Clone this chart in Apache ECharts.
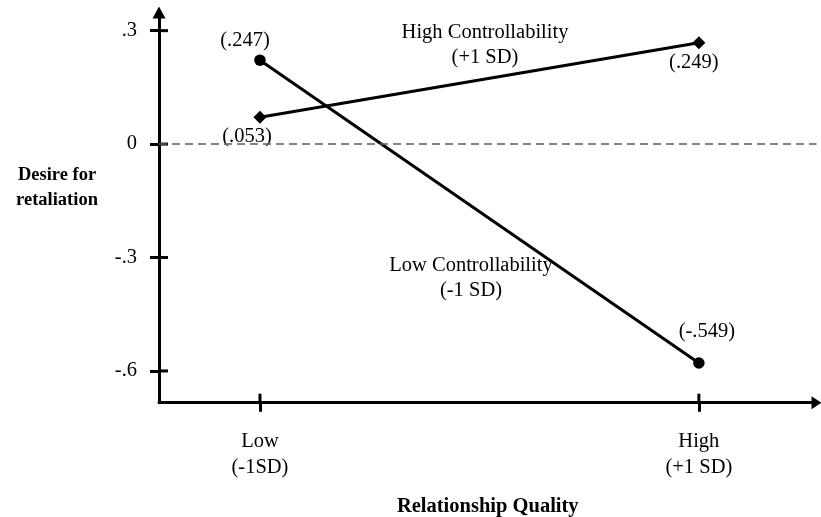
<!DOCTYPE html>
<html><head><meta charset="utf-8">
<script src="https://cdn.jsdelivr.net/npm/echarts@6/dist/echarts.min.js"></script>
<style>html,body{margin:0;padding:0;background:#fff}#c{width:821px;height:517px}</style>
</head><body><div id="c"></div>
<script>
// ---- data ----
const xPositions = [0, 1];
const xTickLabels = ['Low\n(-1SD)', 'High\n(+1 SD)'];
const yTicks = [-0.6, -0.3, 0, 0.3];
const yTickLabels = ['-.6', '-.3', '0', '.3'];
const lowControllability = [0.222, -0.579];
const highControllability = [0.071, 0.268];
const lowValueLabels = ['(.247)', '(-.549)'];
const highValueLabels = ['(.053)', '(.249)'];
const lowSeriesName = 'Low Controllability\n(-1 SD)';
const highSeriesName = 'High Controllability\n(+1 SD)';
const xAxisName = 'Relationship Quality';
const yAxisName = 'Desire for\nretaliation';

// ---- styles ----
const FONT = "'Liberation Serif', 'Times New Roman', serif";
const FS = 20.5;
const X_MIN = -0.23, X_MAX = 1.268, Y_MIN = -0.684, Y_MAX = 0.348;
const TICK = 9;

const chart = echarts.init(document.getElementById('c'), null, {renderer: 'canvas'});

function fmtY(v) {
  const i = yTicks.findIndex(t => Math.abs(t - v) < 1e-9);
  return i >= 0 ? yTickLabels[i] : '';
}
function fmtX(v) {
  const i = xPositions.findIndex(t => Math.abs(t - v) < 1e-9);
  return i >= 0 ? xTickLabels[i] : '';
}

const lowLayout = [{position: 'top', offset: [-15, 2]}, {position: 'top', offset: [8, -10]}];
const highLayout = [{position: 'bottom', offset: [-13, -3]}, {position: 'bottom', offset: [-5, -2]}];

function buildData(vals, labels, lay) {
  return vals.map((v, i) => ({
    value: [xPositions[i], v],
    label: {show: true, position: lay[i].position, offset: lay[i].offset,
      formatter: labels[i], color: '#000', fontFamily: FONT, fontSize: FS}
  }));
}

const tickStyle = (vals) => ({show: true, inside: false, length: TICK, customValues: vals,
  lineStyle: {color: '#000', width: 3}});

// inner half of the crossing tick marks, anchored on the axes through the coordinate system
function innerTicks(dataPts, dir) {
  return {
    type: 'custom', silent: true, clip: false, z: 3,
    data: dataPts,
    renderItem: function (params, api) {
      const p = api.coord([api.value(0), api.value(1)]);
      const x2 = dir === 'x' ? p[0] + TICK : p[0];
      const y2 = dir === 'y' ? p[1] - TICK : p[1];
      return {type: 'line', shape: {x1: p[0], y1: p[1], x2: x2, y2: y2},
        style: {stroke: '#000', lineWidth: 3}};
    }
  };
}

const option = {
  animation: false,
  backgroundColor: '#fff',
  grid: {left: 159, right: 4.5, top: 12.5, bottom: 114.3, containLabel: false, outerBoundsMode: 'none'},
  xAxis: {
    type: 'value', min: X_MIN, max: X_MAX, position: 'bottom',
    axisLine: {show: true, onZero: false, symbol: ['none', 'triangle'], symbolSize: [13, 10],
      lineStyle: {color: '#000', width: 3}},
    axisTick: tickStyle(xPositions),
    axisLabel: {show: true, customValues: xPositions, formatter: fmtX, margin: 26,
      color: '#000', fontFamily: FONT, fontSize: FS, lineHeight: 26},
    splitLine: {show: false},
    name: xAxisName, nameLocation: 'middle', nameGap: 94,
    nameTextStyle: {color: '#000', fontFamily: FONT, fontSize: FS, fontWeight: 'bold'}
  },
  yAxis: {
    type: 'value', min: Y_MIN, max: Y_MAX, position: 'left',
    axisLine: {show: true, onZero: false, symbol: ['none', 'triangle'], symbolSize: [13, 12],
      lineStyle: {color: '#000', width: 3}},
    axisTick: tickStyle(yTicks),
    axisLabel: {show: true, customValues: yTicks, formatter: fmtY, margin: 22,
      color: '#000', fontFamily: FONT, fontSize: FS},
    splitLine: {show: false}
  },
  series: [{
    name: lowSeriesName, type: 'line',
    data: buildData(lowControllability, lowValueLabels, lowLayout),
    symbol: 'circle', symbolSize: 11.5, showAllSymbol: true,
    lineStyle: {color: '#000', width: 3}, itemStyle: {color: '#000'},
    markLine: {silent: true, symbol: ['none', 'none'], label: {show: false},
      lineStyle: {color: '#5e5e5e', width: 1.6, type: [8, 5]},
      data: [{yAxis: 0}]}
  }, {
    name: highSeriesName, type: 'line',
    data: buildData(highControllability, highValueLabels, highLayout),
    symbol: 'diamond', symbolSize: 13, showAllSymbol: true,
    lineStyle: {color: '#000', width: 3}, itemStyle: {color: '#000'}
  },
  innerTicks(yTicks.map(v => [X_MIN, v]), 'x'),
  innerTicks(xPositions.map(v => [v, Y_MIN]), 'y')
  ],
  graphic: [{
    type: 'text', x: 485, y: 45, silent: true,
    style: {text: highSeriesName, fill: '#000', font: FS + 'px ' + FONT, align: 'center',
      verticalAlign: 'middle', lineHeight: 25}
  }, {
    type: 'text', x: 471, y: 278, silent: true,
    style: {text: lowSeriesName, fill: '#000', font: FS + 'px ' + FONT, align: 'center',
      verticalAlign: 'middle', lineHeight: 25}
  }, {
    type: 'text', x: 57, y: 187.5, silent: true,
    style: {text: yAxisName, fill: '#000', font: 'bold 18.5px ' + FONT, align: 'center',
      verticalAlign: 'middle', lineHeight: 25}
  }]
};
chart.setOption(option);
</script>
</body></html>
